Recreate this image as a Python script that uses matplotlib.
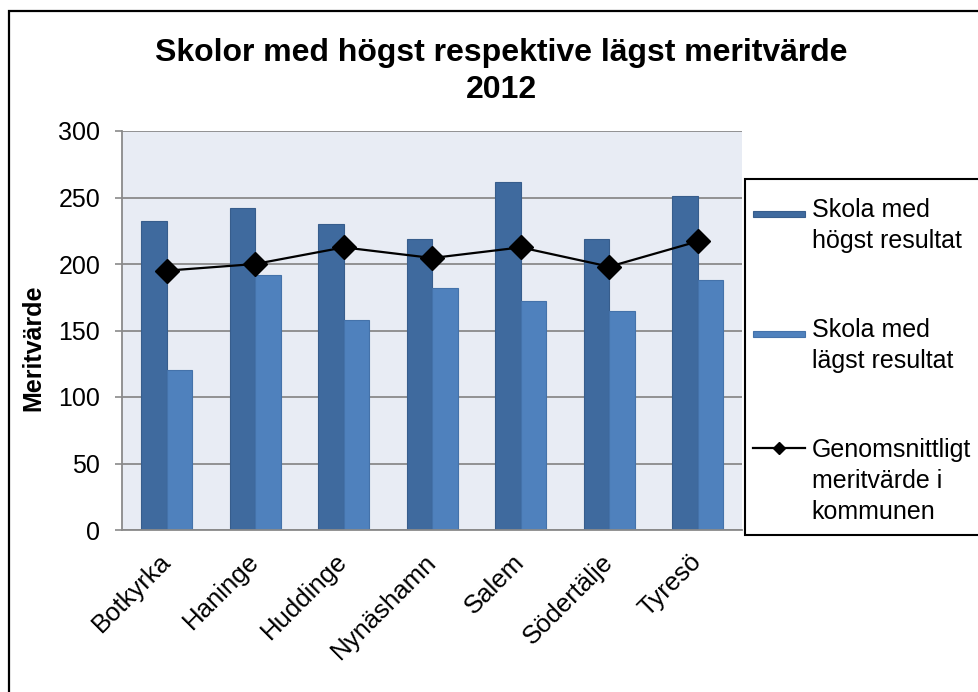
import numpy as np
import matplotlib
matplotlib.use("Agg")
import matplotlib.pyplot as plt
from matplotlib.patches import Rectangle
from matplotlib.lines import Line2D
from matplotlib.transforms import ScaledTranslation

plt.rcParams['font.family'] = ['Liberation Sans', 'DejaVu Sans']

# --- data ---
kommuner = ["Botkyrka", "Haninge", "Huddinge", "Nynäshamn", "Salem", "Södertälje", "Tyresö"]
hogst = [232, 242, 230, 219, 262, 219, 251]
lagst = [120, 192, 158, 182, 172.5, 164.5, 188]
snitt = [195, 200, 212.5, 204.5, 212.5, 198, 217]
yticks = [0, 50, 100, 150, 200, 250, 300]

legend_labels = [
    ["Skola med", "högst resultat"],
    ["Skola med", "lägst resultat"],
    ["Genomsnittligt", "meritvärde i", "kommunen"],
]

dark = "#3F6A9E"
dark_edge = "#375D8C"
light = "#4F81BD"
light_edge = "#4472AA"
grid_grey = "#8A8A8A"

W, H = 979, 692
fig = plt.figure(figsize=(W / 100, H / 100), dpi=100)


def fx(px):
    return px / W


def fy(py):
    return 1 - py / H


# plot area (pixel positions)
ax = fig.add_axes([fx(122.5), fy(530), fx(742) - fx(122.5), fy(131) - fy(530)])
ax.set_facecolor("#E8ECF4")

x = np.arange(len(kommuner))
w = 0.289
ax.bar(x - w / 2, hogst, w, color=dark, edgecolor=dark_edge, linewidth=0.8, zorder=2)
ax.bar(x + w / 2, lagst, w, color=light, edgecolor=light_edge, linewidth=0.8, zorder=2)
ax.plot(x, snitt, color="black", linewidth=1.6, marker="D", markersize=12, zorder=3, clip_on=False)

ax.set_xlim(-0.5, len(kommuner) - 0.5)
ax.set_ylim(0, 300)
ax.set_yticks(yticks)
ax.yaxis.grid(True, color=grid_grey, linewidth=1.3)
ax.set_axisbelow(True)

for side in ["top", "right"]:
    ax.spines[side].set_visible(False)
for side in ["left", "bottom"]:
    ax.spines[side].set_color(grid_grey)
    ax.spines[side].set_linewidth(1.3)

ax.tick_params(axis="y", length=5, width=1.2, color=grid_grey, pad=11, labelsize=18)
ax.tick_params(axis="x", length=0, pad=14, labelsize=18.5)
ax.set_xticks(x)
ax.set_xticklabels(kommuner, rotation=45, ha="right", va="top", rotation_mode="anchor")
# Excel puts the end of the slanted label a little left of the category centre
shift = ScaledTranslation(-8.5 / 100, 0, fig.dpi_scale_trans)
for lbl in ax.get_xticklabels():
    lbl.set_transform(lbl.get_transform() + shift)

# title and axis label
fig.text(fx(501), fy(38), "Skolor med högst respektive lägst meritvärde\n2012",
         ha="center", va="top", fontsize=23, fontweight="bold", linespacing=1.31)
fig.text(fx(33), fy(348), "Meritvärde", rotation=90, ha="center", va="center",
         fontsize=18, fontweight="bold")

# outer frame (only left and top edges fall inside the picture)
fig.add_artist(Rectangle((fx(9), fy(720)), fx(1020) - fx(9), fy(11) - fy(720),
                         transform=fig.transFigure, fill=False, edgecolor="black",
                         linewidth=1.6, clip_on=False))

# legend box, drawn by hand so handles line up with the first text line
fig.add_artist(Rectangle((fx(744.5), fy(535)), fx(1020) - fx(744.5), fy(179) - fy(535),
                         transform=fig.transFigure, facecolor="white", edgecolor="black",
                         linewidth=1.5, clip_on=False, zorder=5))
fig.add_artist(Rectangle((fx(753), fy(216.7)), fx(805) - fx(753), 6 / H,
                         transform=fig.transFigure, facecolor=dark, edgecolor=dark_edge,
                         linewidth=0.8, zorder=6))
fig.add_artist(Rectangle((fx(753), fy(336.7)), fx(805) - fx(753), 6 / H,
                         transform=fig.transFigure, facecolor=light, edgecolor=light_edge,
                         linewidth=0.8, zorder=6))
fig.add_artist(Line2D([fx(753), fx(805)], [fy(448.3), fy(448.3)], transform=fig.transFigure,
                      color="black", linewidth=1.6, zorder=6))
fig.add_artist(Line2D([fx(779)], [fy(448.3)], transform=fig.transFigure, color="black",
                      marker="D", markersize=6, linestyle="none", zorder=7))

first_baselines = [216.7, 336.7, 456.7]
for lines, base in zip(legend_labels, first_baselines):
    for i, line in enumerate(lines):
        fig.text(fx(811.7), fy(base + i * 31), line, ha="left", va="baseline",
                 fontsize=18, zorder=7)

fig.savefig("out.png", dpi=100)
